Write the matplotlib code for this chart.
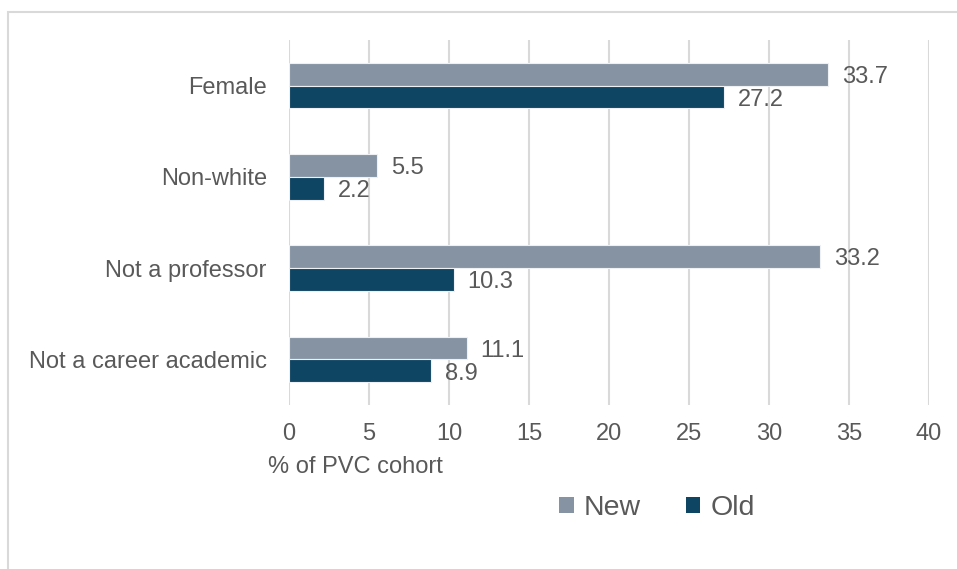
import matplotlib
matplotlib.use("Agg")
import matplotlib.pyplot as plt
from matplotlib.patches import Rectangle
import numpy as np

categories = ["Female", "Non-white", "Not a professor", "Not a career academic"]
new_vals = [33.7, 5.5, 33.2, 11.1]
old_vals = [27.2, 2.2, 10.3, 8.9]
series_names = ["New", "Old"]
xticks = [0, 5, 10, 15, 20, 25, 30, 35, 40]

plt.rcParams['font.family'] = ['Liberation Sans', 'DejaVu Sans']
TXT = '#595959'
C_NEW = '#8593A3'
C_OLD = '#0E4563'
FS = 17

fig = plt.figure(figsize=(9.57, 5.69), dpi=100)
fig.patches.append(Rectangle((8/957, -0.1), 1.2, 0.1 + 1 - 12/569, transform=fig.transFigure,
                             fill=False, edgecolor='#D9D9D9', linewidth=1.5))
ax = fig.add_axes([289/957, 1 - 405/569, 640/957, 365/569])

y = np.arange(len(categories))
h = 0.25
b1 = ax.barh(y - h/2, new_vals, height=h, color=C_NEW, edgecolor='#EEF0F3', linewidth=0.8, label=series_names[0], zorder=3)
b2 = ax.barh(y + h/2, old_vals, height=h, color=C_OLD, edgecolor='#EEF0F3', linewidth=0.8, label=series_names[1], zorder=3)
for bars in (b1, b2):
    for rect, v in zip(bars, bars.datavalues):
        ax.annotate(f"{v:.1f}", xy=(rect.get_width(), rect.get_y() + rect.get_height() / 2),
                    xytext=(10, -2), textcoords='offset points', ha='left', va='center',
                    fontsize=FS, color=TXT)

ax.set_xlim(0, 40)
ax.set_ylim(len(categories) - 0.5, -0.5)
ax.set_xticks(xticks)
ax.set_yticks(y)
ax.set_yticklabels(categories)
ax.tick_params(axis='both', length=0, labelsize=FS, labelcolor=TXT)
ax.tick_params(axis='x', pad=13)
ax.tick_params(axis='y', pad=16)
for s in ax.spines.values():
    s.set_visible(False)
ax.grid(axis='x', color='#D9D9D9', linewidth=1.5, zorder=0)
ax.set_axisbelow(True)

fig.text(268/957, 1 - 467/569, "% of PVC cohort", fontsize=FS, color=TXT, ha='left', va='center')

leg = fig.legend(handles=[b1, b2], labels=series_names, loc='center', bbox_to_anchor=(657/957, 1 - 508/569),
                 ncol=2, frameon=False, fontsize=20.5, labelcolor=TXT, handlelength=0.5, handleheight=0.5,
                 handletextpad=0.35, columnspacing=1.6)
for p in leg.get_patches():
    p.set_edgecolor('none')

fig.savefig("out.png", dpi=100)
